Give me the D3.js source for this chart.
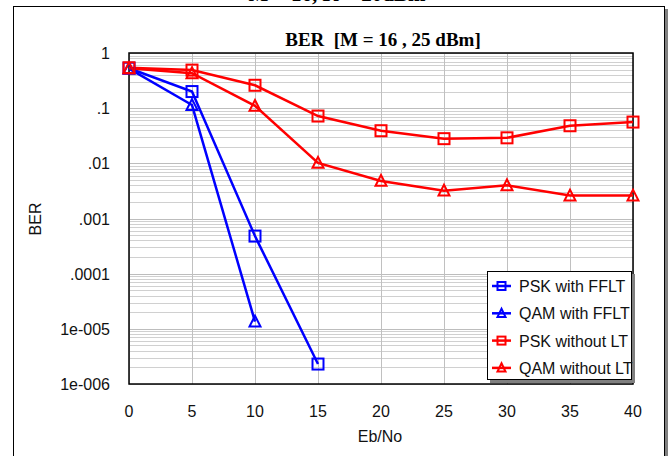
<!DOCTYPE html>
<html>
<head>
<meta charset="utf-8">
<script src="https://cdn.jsdelivr.net/npm/d3@7"></script>
<style>
body { margin: 0; background: #fff; }
</style>
</head>
<body>
<script>
// data
var ebno = [0, 5, 10, 15, 20, 25, 30, 35, 40];
var pskFFLT = [0.53, 0.2, 0.00048, 0.0000023];
var qamFFLT = [0.52, 0.114, 0.0000135];
var pskNoLT = [0.54, 0.49, 0.26, 0.072, 0.039, 0.028, 0.029, 0.048, 0.056];
var qamNoLT = [0.53, 0.43, 0.11, 0.0102, 0.0048, 0.0032, 0.004, 0.0026, 0.0026];
var yTicks = [1, 0.1, 0.01, 0.001, 0.0001, 0.00001, 0.000001];
var yTickLabels = ["1", ".1", ".01", ".001", ".0001", "1e-005", "1e-006"];
var xTicks = [0, 5, 10, 15, 20, 25, 30, 35, 40];

var series = [
  {name: "PSK with FFLT", vals: pskFFLT, color: "#0000ff", mark: "square"},
  {name: "QAM with FFLT", vals: qamFFLT, color: "#0000ff", mark: "triangle"},
  {name: "PSK without LT", vals: pskNoLT, color: "#ff0000", mark: "square"},
  {name: "QAM without LT", vals: qamNoLT, color: "#ff0000", mark: "triangle"}
];

var sans = "Arial, 'Liberation Sans', sans-serif";
var serif = "'Liberation Serif', 'Times New Roman', serif";

var svg = d3.select("body").append("svg")
    .attr("width", 672)
    .attr("height", 456);

// outer frame + shadow
svg.append("rect").attr("x", 665).attr("y", 9).attr("width", 3).attr("height", 460).attr("fill", "#808080");
svg.append("rect")
    .attr("x", 13.5).attr("y", 6.5).attr("width", 651).attr("height", 470)
    .attr("fill", "#fff").attr("stroke", "#000").attr("stroke-width", 1);

// clipped heading above
svg.append("text")
    .attr("x", 337).attr("y", 1)
    .attr("text-anchor", "middle")
    .style("font-family", serif).style("white-space", "pre")
    .attr("font-weight", "bold").attr("font-size", 21)
    .text("M = 16, K = 20dBm");

var x = d3.scaleLinear().domain([0, 40]).range([129, 633]);
var y = d3.scaleLog().domain([1e-6, 1]).range([384, 53]);

// gridlines
var minor = [];
for (var e = -6; e < 0; e++) {
  for (var k = 2; k <= 9; k++) minor.push(k * Math.pow(10, e));
}
svg.append("g").selectAll("line").data(minor).join("line")
    .attr("x1", x(0)).attr("x2", x(40))
    .attr("y1", d => Math.round(y(d)) + 0.5).attr("y2", d => Math.round(y(d)) + 0.5)
    .attr("stroke", "#d0d0d0").attr("stroke-width", 1);
svg.append("g").selectAll("line").data(yTicks).join("line")
    .attr("x1", x(0)).attr("x2", x(40))
    .attr("y1", d => Math.round(y(d)) + 0.5).attr("y2", d => Math.round(y(d)) + 0.5)
    .attr("stroke", "#bdbdbd").attr("stroke-width", 1);
svg.append("g").selectAll("line").data(xTicks).join("line")
    .attr("x1", d => Math.round(x(d)) + 0.5).attr("x2", d => Math.round(x(d)) + 0.5)
    .attr("y1", y(1)).attr("y2", y(1e-6))
    .attr("stroke", "#c0c0c0").attr("stroke-width", 1);

// plot frame
svg.append("rect")
    .attr("x", 129).attr("y", 53).attr("width", 504).attr("height", 331)
    .attr("fill", "none").attr("stroke", "#000").attr("stroke-width", 1.5);

// tick labels
svg.append("g").selectAll("text").data(yTicks).join("text")
    .attr("x", 110).attr("y", d => y(d) + 6)
    .attr("text-anchor", "end").attr("font-size", 16).attr("fill", "#111")
    .style("font-family", sans)
    .text((d, i) => yTickLabels[i]);
svg.append("g").selectAll("text").data(xTicks).join("text")
    .attr("x", d => x(d)).attr("y", 417)
    .attr("text-anchor", "middle").attr("font-size", 16).attr("fill", "#111")
    .style("font-family", sans)
    .text(d => d);

// axis titles
svg.append("text").attr("x", 380).attr("y", 442)
    .attr("text-anchor", "middle").attr("font-size", 16).attr("fill", "#111")
    .style("font-family", sans).text("Eb/No");
svg.append("text")
    .attr("transform", "translate(41,219) rotate(-90)")
    .attr("text-anchor", "middle").attr("font-size", 16).attr("fill", "#111")
    .style("font-family", sans).text("BER");

// chart title
svg.append("text").attr("x", 383).attr("y", 46)
    .attr("text-anchor", "middle")
    .style("font-family", serif).style("white-space", "pre")
    .attr("font-weight", "bold").attr("font-size", 19)
    .text("BER  [M = 16 , 25 dBm]");

function drawMark(g, mark, cx, cy, color, s) {
  if (mark === "square") {
    g.append("rect").attr("x", cx - s / 2).attr("y", cy - s / 2)
        .attr("width", s).attr("height", s)
        .attr("fill", "none").attr("stroke", color).attr("stroke-width", 2);
  } else {
    var h = s * 0.9;
    g.append("path")
        .attr("d", "M" + cx + "," + (cy - h / 2 - 1) + "L" + (cx + s / 2) + "," + (cy + h / 2) + "L" + (cx - s / 2) + "," + (cy + h / 2) + "Z")
        .attr("fill", "none").attr("stroke", color).attr("stroke-width", 2);
  }
}

var line = d3.line().x((d, i) => x(ebno[i])).y(d => y(d));
var plot = svg.append("g");
series.forEach(function(s) {
  plot.append("path").datum(s.vals)
      .attr("d", line)
      .attr("fill", "none").attr("stroke", s.color).attr("stroke-width", 2.5);
});
series.forEach(function(s) {
  s.vals.forEach(function(v, i) {
    drawMark(plot, s.mark, x(ebno[i]), y(v), s.color, 11);
  });
});

// legend
var lg = svg.append("g");
lg.append("rect").attr("x", 490).attr("y", 274).attr("width", 145).attr("height", 109).attr("fill", "#808080");
lg.append("rect").attr("x", 487.5).attr("y", 271.5).attr("width", 144).attr("height", 108)
    .attr("fill", "#fff").attr("stroke", "#000").attr("stroke-width", 1);
series.forEach(function(s, i) {
  var ly = 286 + i * 27.3;
  lg.append("line").attr("x1", 492).attr("x2", 511).attr("y1", ly).attr("y2", ly)
      .attr("stroke", s.color).attr("stroke-width", 2.5);
  drawMark(lg, s.mark, 501.5, ly, s.color, 8);
  lg.append("text").attr("x", 519).attr("y", ly + 6)
      .attr("font-size", 16).attr("fill", "#111")
      .style("font-family", sans).text(s.name);
});
</script>
</body>
</html>
